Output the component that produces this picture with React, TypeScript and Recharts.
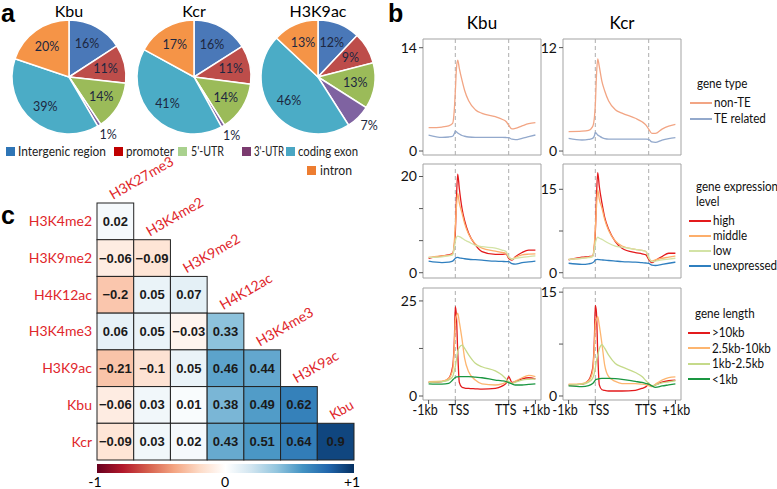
import React from 'react';
import {
  PieChart, Pie, Cell, LineChart, Line, XAxis, YAxis,
  ReferenceLine, ReferenceArea, ScatterChart, Scatter,
} from 'recharts';

// ---- panel a: genomic distribution (%)
const regions = ['Intergenic region', 'promoter', "5'-UTR", "3'-UTR", 'coding exon', 'intron'];
const sliceColors = ['#4a78b8', '#bd4d4a', '#9bbb59', '#7f63a1', '#4bacc6', '#f59447'];
const legendColors = ['#2e75b6', '#c00000', '#a9d18e', '#7b3b6f', '#4aa6c3', '#ed7d31'];
const kbuShare = [16, 11, 14, 1, 39, 20];
const kcrShare = [16, 11, 14, 1, 41, 17];
const h3k9acShare = [12, 9, 13, 7, 46, 13];

// ---- panel b: metagene profiles (x: 0=-1kb, 1=TSS, 3=TTS, 4=+1kb)
const xPos = [0, 0.5, 0.75, 0.9, 0.97, 1.0, 1.04, 1.09, 1.15, 1.25, 1.35, 1.5, 1.75, 2.0, 2.5, 2.75, 2.9, 3.0, 3.12, 3.25, 3.5, 3.75, 4.0];
const xTicks = [0, 1, 3, 4];
const xTickLabels = ['-1kb', 'TSS', 'TTS', '+1kb'];

const kbuNonTE = [3.16, 3.25, 3.4, 3.75, 6.0, 8.0, 11.0, 12.3, 11.2, 9.6, 8.2, 6.8, 5.6, 5.1, 4.65, 4.3, 4.0, 3.5, 3.0, 3.07, 3.4, 3.7, 3.85];
const kbuTE = [2.17, 1.85, 1.9, 2.0, 2.4, 2.7, 2.6, 2.45, 2.3, 2.1, 2.0, 1.9, 1.85, 1.85, 1.85, 1.85, 1.83, 1.8, 1.6, 1.54, 1.72, 1.95, 2.17];
const kcrNonTE = [2.25, 2.3, 2.4, 2.83, 4.0, 5.3, 8.5, 10.7, 9.8, 8.05, 7.0, 5.8, 4.8, 4.4, 3.8, 3.4, 3.0, 2.55, 2.05, 2.05, 2.55, 2.9, 3.1];
const kcrTE = [1.47, 1.28, 1.35, 1.47, 1.8, 2.17, 2.05, 1.86, 1.75, 1.55, 1.45, 1.39, 1.39, 1.39, 1.39, 1.39, 1.39, 1.35, 1.05, 1.0, 1.28, 1.45, 1.55];

const kbuHigh = [3.0, 3.5, 3.7, 4.0, 6.0, 8.2, 15.0, 20.5, 17.5, 13.4, 10.8, 8.2, 5.8, 4.4, 3.8, 3.8, 3.9, 3.0, 2.6, 3.3, 4.2, 4.7, 4.7];
const kbuMiddle = [3.2, 3.5, 3.6, 3.9, 7.0, 9.6, 13.5, 16.5, 14.5, 12.4, 10.2, 8.0, 6.0, 5.1, 4.5, 4.2, 4.0, 3.2, 2.85, 3.2, 3.7, 3.85, 3.9];
const kbuLow = [3.2, 3.3, 3.5, 3.7, 5.5, 6.5, 7.3, 7.6, 7.5, 7.2, 6.8, 6.4, 5.7, 5.4, 5.1, 4.7, 4.4, 3.3, 2.8, 3.0, 3.2, 3.35, 3.5];
const kbuUnexp = [2.4, 2.1, 2.2, 2.4, 2.8, 3.0, 3.15, 3.2, 3.1, 3.0, 2.9, 2.8, 2.7, 2.6, 2.4, 2.35, 2.3, 2.3, 1.9, 1.8, 2.1, 2.25, 2.4];
const kcrHigh = [2.3, 2.8, 2.9, 3.0, 5.0, 7.1, 13.0, 18.0, 15.5, 12.5, 10.0, 7.8, 5.6, 4.4, 3.6, 3.4, 3.2, 2.4, 1.8, 2.2, 2.9, 3.5, 3.5];
const kcrMiddle = [2.4, 2.6, 2.8, 3.0, 5.5, 7.7, 11.5, 14.9, 13.2, 11.6, 9.6, 7.6, 5.7, 4.8, 4.2, 4.0, 3.8, 2.6, 2.1, 2.3, 2.6, 2.8, 3.0];
const kcrLow = [2.4, 2.6, 2.7, 2.9, 4.3, 5.3, 6.0, 6.4, 6.2, 6.0, 5.7, 5.3, 4.8, 4.6, 4.2, 4.0, 3.8, 2.8, 2.0, 2.1, 2.3, 2.45, 2.6];
const kcrUnexp = [1.7, 1.5, 1.6, 1.8, 2.1, 2.3, 2.35, 2.4, 2.35, 2.3, 2.25, 2.2, 2.1, 2.0, 1.9, 1.8, 1.75, 1.7, 1.35, 1.3, 1.5, 1.7, 1.9];

const kbuLong = [3.6, 3.8, 4.6, 7.7, 16.0, 23.5, 21.3, 11.7, 3.6, 2.3, 2.1, 2.0, 1.9, 1.8, 2.0, 2.6, 3.3, 5.1, 3.6, 3.8, 4.5, 4.8, 4.5];
const kbuMid = [3.8, 3.9, 4.6, 6.8, 14.0, 19.6, 21.0, 21.8, 19.5, 15.0, 9.9, 6.4, 4.2, 3.2, 2.9, 3.2, 3.6, 3.8, 3.3, 3.9, 4.8, 5.4, 5.1];
const kbuShort = [3.6, 3.8, 4.2, 5.1, 6.8, 7.7, 9.5, 11.7, 12.8, 13.4, 12.5, 10.8, 8.6, 7.7, 6.6, 5.5, 4.5, 3.8, 3.3, 3.6, 4.2, 4.4, 4.5];
const kbuTiny = [3.2, 3.1, 3.3, 4.2, 4.7, 4.9, 5.0, 5.05, 5.1, 5.1, 5.1, 5.1, 4.95, 4.8, 4.2, 4.0, 3.8, 3.5, 3.2, 2.9, 2.9, 3.05, 3.2];
const kcrLong = [1.6, 1.7, 2.3, 4.0, 8.8, 13.1, 12.2, 6.4, 1.6, 0.9, 0.8, 0.72, 0.72, 0.72, 0.82, 1.1, 1.35, 1.7, 1.45, 1.6, 2.0, 2.2, 2.3];
const kcrMid = [1.7, 1.8, 2.2, 3.5, 7.5, 10.3, 11.0, 11.5, 10.2, 7.5, 4.5, 2.8, 2.1, 1.8, 1.8, 1.7, 1.6, 1.5, 1.35, 1.7, 2.3, 2.65, 2.75];
const kcrShort = [1.6, 1.7, 2.0, 2.55, 3.4, 4.0, 5.0, 5.9, 6.8, 7.4, 6.9, 5.9, 4.7, 4.2, 3.4, 2.8, 2.2, 1.8, 1.45, 1.6, 1.9, 2.05, 2.2];
const kcrTiny = [1.45, 1.35, 1.5, 1.8, 2.1, 2.3, 2.4, 2.45, 2.5, 2.55, 2.55, 2.55, 2.5, 2.4, 2.1, 1.95, 1.8, 1.7, 1.45, 1.25, 1.45, 1.6, 1.75];

// ---- panel c: correlation matrix (lower triangle)
const rowNames = ['H3K4me2', 'H3K9me2', 'H4K12ac', 'H3K4me3', 'H3K9ac', 'Kbu', 'Kcr'];
const colNames = ['H3K27me3', 'H3K4me2', 'H3K9me2', 'H4K12ac', 'H3K4me3', 'H3K9ac', 'Kbu'];
const corrH3K4me2 = [0.02];
const corrH3K9me2 = [-0.06, -0.09];
const corrH4K12ac = [-0.2, 0.05, 0.07];
const corrH3K4me3 = [0.06, 0.05, -0.03, 0.33];
const corrH3K9ac = [-0.21, -0.1, 0.05, 0.46, 0.44];
const corrKbu = [-0.06, 0.03, 0.01, 0.38, 0.49, 0.62];
const corrKcr = [-0.09, 0.03, 0.02, 0.43, 0.51, 0.64, 0.9];
const corrRows = [corrH3K4me2, corrH3K9me2, corrH4K12ac, corrH3K4me3, corrH3K9ac, corrKbu, corrKcr];

const rdbu = ['#67001f', '#b2182b', '#d6604d', '#f4a582', '#fddbc7', '#ffffff', '#d1e5f0', '#92c5de', '#4393c3', '#2166ac', '#053061'];

const hex = (c: string) => [1, 3, 5].map((i) => parseInt(c.slice(i, i + 2), 16));
const corrColor = (v: number) => {
  const w = Math.sign(v) * Math.pow(Math.abs(v), 0.8);
  const t = ((w + 1) / 2) * (rdbu.length - 1);
  const i = Math.min(rdbu.length - 2, Math.floor(t));
  const f = t - i;
  const a = hex(rdbu[i]);
  const b = hex(rdbu[i + 1]);
  const m = a.map((c, k) => Math.round(c + (b[k] - c) * f));
  return `rgb(${m[0]},${m[1]},${m[2]})`;
};

const LABEL_RED = '#e0262b';
const SANS = 'Lato, "Liberation Sans", sans-serif';

const zip = (keys: string[], cols: number[][]) =>
  xPos.map((x, i) => {
    const row: any = { x };
    keys.forEach((k, j) => (row[k] = cols[j][i]));
    return row;
  });

const typeKbu = zip(['nonTE', 'TE'], [kbuNonTE, kbuTE]);
const typeKcr = zip(['nonTE', 'TE'], [kcrNonTE, kcrTE]);
const exprKbu = zip(['high', 'middle', 'low', 'unexp'], [kbuHigh, kbuMiddle, kbuLow, kbuUnexp]);
const exprKcr = zip(['high', 'middle', 'low', 'unexp'], [kcrHigh, kcrMiddle, kcrLow, kcrUnexp]);
const lenKbu = zip(['long', 'mid', 'short', 'tiny'], [kbuLong, kbuMid, kbuShort, kbuTiny]);
const lenKcr = zip(['long', 'mid', 'short', 'tiny'], [kcrLong, kcrMid, kcrShort, kcrTiny]);

const typeSeries = [
  { key: 'nonTE', name: 'non-TE', color: '#f2a584' },
  { key: 'TE', name: 'TE related', color: '#93a9cc' },
];
const exprSeries = [
  { key: 'high', name: 'high', color: '#e31a1c' },
  { key: 'middle', name: 'middle', color: '#fdae6b' },
  { key: 'low', name: 'low', color: '#d3e3a6' },
  { key: 'unexp', name: 'unexpressed', color: '#2f7fbf' },
];
const lenSeries = [
  { key: 'long', name: '>10kb', color: '#e31a1c' },
  { key: 'mid', name: '2.5kb-10kb', color: '#fdb56f' },
  { key: 'short', name: '1kb-2.5kb', color: '#c5da8a' },
  { key: 'tiny', name: '<1kb', color: '#1a9641' },
];

// narrow the Lato text a bit so it takes the room Calibri takes in the original
const Narrow = ({ k, children }: any) => (
  <span style={{ display: 'inline-block', transform: `scaleX(${k})`, transformOrigin: 'left center', whiteSpace: 'nowrap' }}>{children}</span>
);

const renderPct = (p: any) => {
  const RAD = Math.PI / 180;
  const small = p.value <= 7;
  const r = small ? p.outerRadius + 11 : p.outerRadius * 0.66;
  const x = p.cx + r * Math.cos(-p.midAngle * RAD) + (small ? 3 : 0);
  const y = p.cy + r * Math.sin(-p.midAngle * RAD);
  return (
    <text x={x} y={y} textAnchor="middle" dominantBaseline="central" fontSize={12.5} fontFamily={SANS} fill="#1d2740">
      {p.value}%
    </text>
  );
};

// the original labels sit a little off their tick marks
const xLabelShift = [-3.5, 3.5, -3, 1];

const XTick = (p: any) => {
  const i = xTicks.indexOf(p.payload.value);
  return (
    <text transform={`translate(${p.x + xLabelShift[i]},${p.y}) scale(0.86,1)`} textAnchor="middle" dy="0.71em" fontSize={14.5} fontFamily={SANS} fill="#111">
      {xTickLabels[i]}
    </text>
  );
};

const PAD = 8;

const SmallPlot = ({ left, top, plotH, domain, ticks, shown, data, series, showX }: any) => {
  const xH = showX ? 24 : 6;
  return (
    <div style={{ position: 'absolute', left: left - 30, top: top - PAD }}>
      <LineChart width={163} height={plotH + xH + PAD} data={data} margin={{ top: PAD, right: 15, left: 0, bottom: 0 }}>
        <ReferenceArea x1={-0.21} x2={4.21} y1={domain[0]} y2={domain[1]} fill="none" stroke="#a3a3a3" strokeWidth={1} ifOverflow="visible" />
        <XAxis dataKey="x" type="number" domain={[-0.21, 4.21]} ticks={xTicks} interval={0} allowDataOverflow height={xH}
          axisLine={false} tickSize={4} tickMargin={1} tickLine={{ stroke: '#555' }}
          tick={showX ? <XTick /> : false} />
        <YAxis type="number" domain={domain} ticks={ticks} interval={0} allowDataOverflow width={30} axisLine={false}
          tickSize={4} tickMargin={2} tickLine={{ stroke: '#555' }}
          tick={{ fill: '#111', fontSize: 14, fontFamily: SANS }}
          tickFormatter={(v: number) => (shown.includes(v) ? String(v) : '')} />
        <ReferenceLine x={1} stroke="#adadad" strokeDasharray="4 3" />
        <ReferenceLine x={3} stroke="#adadad" strokeDasharray="4 3" />
        {series.map((s: any) => (
          <Line key={s.key} dataKey={s.key} type="monotone" stroke={s.color} strokeWidth={1.3} dot={false} isAnimationActive={false} />
        ))}
      </LineChart>
    </div>
  );
};

const LineLegend = ({ left, top, title, series, gap }: any) => (
  <div style={{ position: 'absolute', left, top, fontFamily: SANS, fontSize: 13.5, color: '#111', lineHeight: 1 }}>
    {title.map((t: string, i: number) => (
      <div key={t} style={{ position: 'absolute', left: 7, top: i * 15, whiteSpace: 'nowrap' }}><Narrow k={0.86}>{t}</Narrow></div>
    ))}
    {series.map((s: any, i: number) => (
      <div key={s.key} style={{ position: 'absolute', left: 0, top: title.length * 15 + 4 + i * gap, whiteSpace: 'nowrap', display: 'flex', alignItems: 'center' }}>
        <span style={{ display: 'inline-block', width: 22, height: 2, background: s.color, marginRight: 2 }} />
        <Narrow k={0.86}>{s.name}</Narrow>
      </div>
    ))}
  </div>
);

const CELL = 257 / 7;
const HEAD = 56;

const heatCells = corrRows.flatMap((row, r) => row.map((v, c) => ({ x: c + 0.5, y: r + 0.5, v })));
const heatHeaders = colNames.map((name, c) => ({ x: c + 0.5, y: c + 0.5, name }));

const fmt = (v: number) => (v < 0 ? '\u2212' + Math.abs(v) : String(v));

const CellShape = (p: any) => {
  const { cx, cy, payload } = p;
  return (
    <g>
      <rect x={cx - CELL / 2} y={cy - CELL / 2} width={CELL} height={CELL} fill={corrColor(payload.v)} stroke="#222" strokeWidth={1} />
      <text x={cx} y={cy} textAnchor="middle" dominantBaseline="central" fontSize={13} fontWeight="bold" fontFamily='"Liberation Sans", Arial, sans-serif' fill="#1a1a1a">
        {fmt(payload.v)}
      </text>
    </g>
  );
};

const HeaderShape = (p: any) => {
  const { cx, cy, payload } = p;
  const x = cx - CELL / 2 + 16;
  const y = cy - CELL / 2 - 3;
  return (
    <text x={x} y={y} transform={`rotate(-30 ${x} ${y})`} fontSize={14} fontFamily={SANS} fill={LABEL_RED}>
      {payload.name}
    </text>
  );
};

const piePanels = [
  { title: 'Kbu', cx: 69, share: kbuShare },
  { title: 'Kcr', cx: 194, share: kcrShare },
  { title: 'H3K9ac', cx: 318, share: h3k9acShare },
];

// legend of panel a: swatch x, text x, text width, row
const pieLegendPos = [
  { sx: 6, tx: 18, w: 88, row: 0 },
  { sx: 114, tx: 126, w: 48, row: 0 },
  { sx: 178, tx: 191, w: 33, row: 0 },
  { sx: 242, tx: 254, w: 30, row: 0 },
  { sx: 286, tx: 298, w: 60, row: 0 },
  { sx: 307, tx: 320, w: 32, row: 1 },
];

const letter = (ch: string, left: number, top: number) => (
  <div style={{ position: 'absolute', left, top, fontFamily: '"Liberation Sans", Arial, sans-serif', fontWeight: 'bold', fontSize: 25, lineHeight: 1 }}>{ch}</div>
);

export default function App() {
  return (
    <div style={{ position: 'fixed', left: 0, top: 0, width: 777, height: 489, background: '#fff', overflow: 'hidden' }}>
      {letter('a', 1, 1)}
      {letter('b', 388, 1)}
      {letter('c', 1, 203)}

      {/* a */}
      <div style={{ position: 'absolute', left: 0, top: 0 }}>
        <PieChart width={390} height={160} margin={{ top: 0, right: 0, bottom: 0, left: 0 }}>
          {piePanels.map((pp) => (
            <Pie key={pp.title} data={regions.map((r, i) => ({ name: r, value: pp.share[i] }))} dataKey="value"
              cx={pp.cx} cy={77} outerRadius={57} startAngle={90} endAngle={-270}
              stroke="#fff" strokeWidth={1.5} label={renderPct} labelLine={false} isAnimationActive={false}>
              {regions.map((r, i) => <Cell key={r} fill={sliceColors[i]} />)}
            </Pie>
          ))}
        </PieChart>
      </div>
      {piePanels.map((pp) => (
        <div key={pp.title} style={{ position: 'absolute', left: pp.cx - 50, width: 100, top: 3, textAlign: 'center', fontFamily: SANS, fontSize: 16, lineHeight: 1 }}>{pp.title}</div>
      ))}
      <svg width={390} height={42} style={{ position: 'absolute', left: 0, top: 140 }}>
        {pieLegendPos.map((l, i) => (
          <g key={i}>
            <rect x={l.sx} y={7 + l.row * 19} width={9} height={9} fill={legendColors[i]} />
            <text x={l.tx} y={16 + l.row * 19} textLength={l.w} lengthAdjust="spacingAndGlyphs" fontSize={13} fontFamily={SANS} fill="#222">
              {regions[i]}
            </text>
          </g>
        ))}
      </svg>

      {/* b */}
      <div style={{ position: 'absolute', left: 432, width: 100, top: 14, textAlign: 'center', fontFamily: SANS, fontSize: 17, lineHeight: 1 }}>Kbu</div>
      <div style={{ position: 'absolute', left: 572, width: 100, top: 14, textAlign: 'center', fontFamily: SANS, fontSize: 17, lineHeight: 1 }}>Kcr</div>

      <SmallPlot left={423} top={39} plotH={116} domain={[-0.54, 15.18]} ticks={[0, 14]} shown={[0, 14]} data={typeKbu} series={typeSeries} />
      <SmallPlot left={563} top={39} plotH={116} domain={[-0.46, 13.0]} ticks={[0, 12]} shown={[0, 12]} data={typeKcr} series={typeSeries} />
      <SmallPlot left={423} top={164} plotH={114} domain={[-1.1, 22.6]} ticks={[0, 6.67, 13.33, 20]} shown={[0, 20]} data={exprKbu} series={exprSeries} />
      <SmallPlot left={563} top={164} plotH={114} domain={[-0.95, 19.55]} ticks={[0, 7.5, 15]} shown={[0, 15]} data={exprKcr} series={exprSeries} />
      <SmallPlot left={423} top={288} plotH={112} domain={[-1.05, 28.4]} ticks={[0, 12.5, 25]} shown={[0, 25]} data={lenKbu} series={lenSeries} showX />
      <SmallPlot left={563} top={288} plotH={112} domain={[-0.58, 15.6]} ticks={[0, 7.5, 15]} shown={[0, 15]} data={lenKcr} series={lenSeries} showX />

      <LineLegend left={690} top={77} title={['gene type']} series={typeSeries} gap={16} />
      <LineLegend left={689} top={180} title={['gene expression', 'level']} series={exprSeries} gap={15} />
      <LineLegend left={688} top={307} title={['gene length']} series={lenSeries} gap={15.5} />

      {/* c */}
      <div style={{ position: 'absolute', left: 0, top: 202 - HEAD }}>
        <ScatterChart width={356} height={259 + HEAD} margin={{ top: 1 + HEAD, right: 2, left: 0, bottom: 1 }}>
          <XAxis dataKey="x" type="number" domain={[0, 7]} hide />
          <YAxis dataKey="y" type="number" domain={[0, 7]} reversed width={97} ticks={[0.5, 1.5, 2.5, 3.5, 4.5, 5.5, 6.5]} interval={0}
            axisLine={false} tickLine={false} tickSize={0} tickMargin={5}
            tick={{ fill: LABEL_RED, fontSize: 14, fontFamily: SANS }}
            tickFormatter={(v: number) => rowNames[Math.floor(v)]} />
          <Scatter data={heatCells} shape={CellShape} isAnimationActive={false} />
          <Scatter data={heatHeaders} shape={HeaderShape} isAnimationActive={false} />
        </ScatterChart>
      </div>
      <div style={{ position: 'absolute', left: 97, top: 464, width: 257, height: 9, background: `linear-gradient(to right, ${rdbu.join(', ')})` }} />
      {[{ t: '-1', x: 95 }, { t: '0', x: 225 }, { t: '+1', x: 352 }].map((l) => (
        <div key={l.t} style={{ position: 'absolute', left: l.x - 20, width: 40, top: 476, height: 12, textAlign: 'center', fontFamily: SANS, fontSize: 14, lineHeight: '12px' }}>{l.t}</div>
      ))}
    </div>
  );
}
